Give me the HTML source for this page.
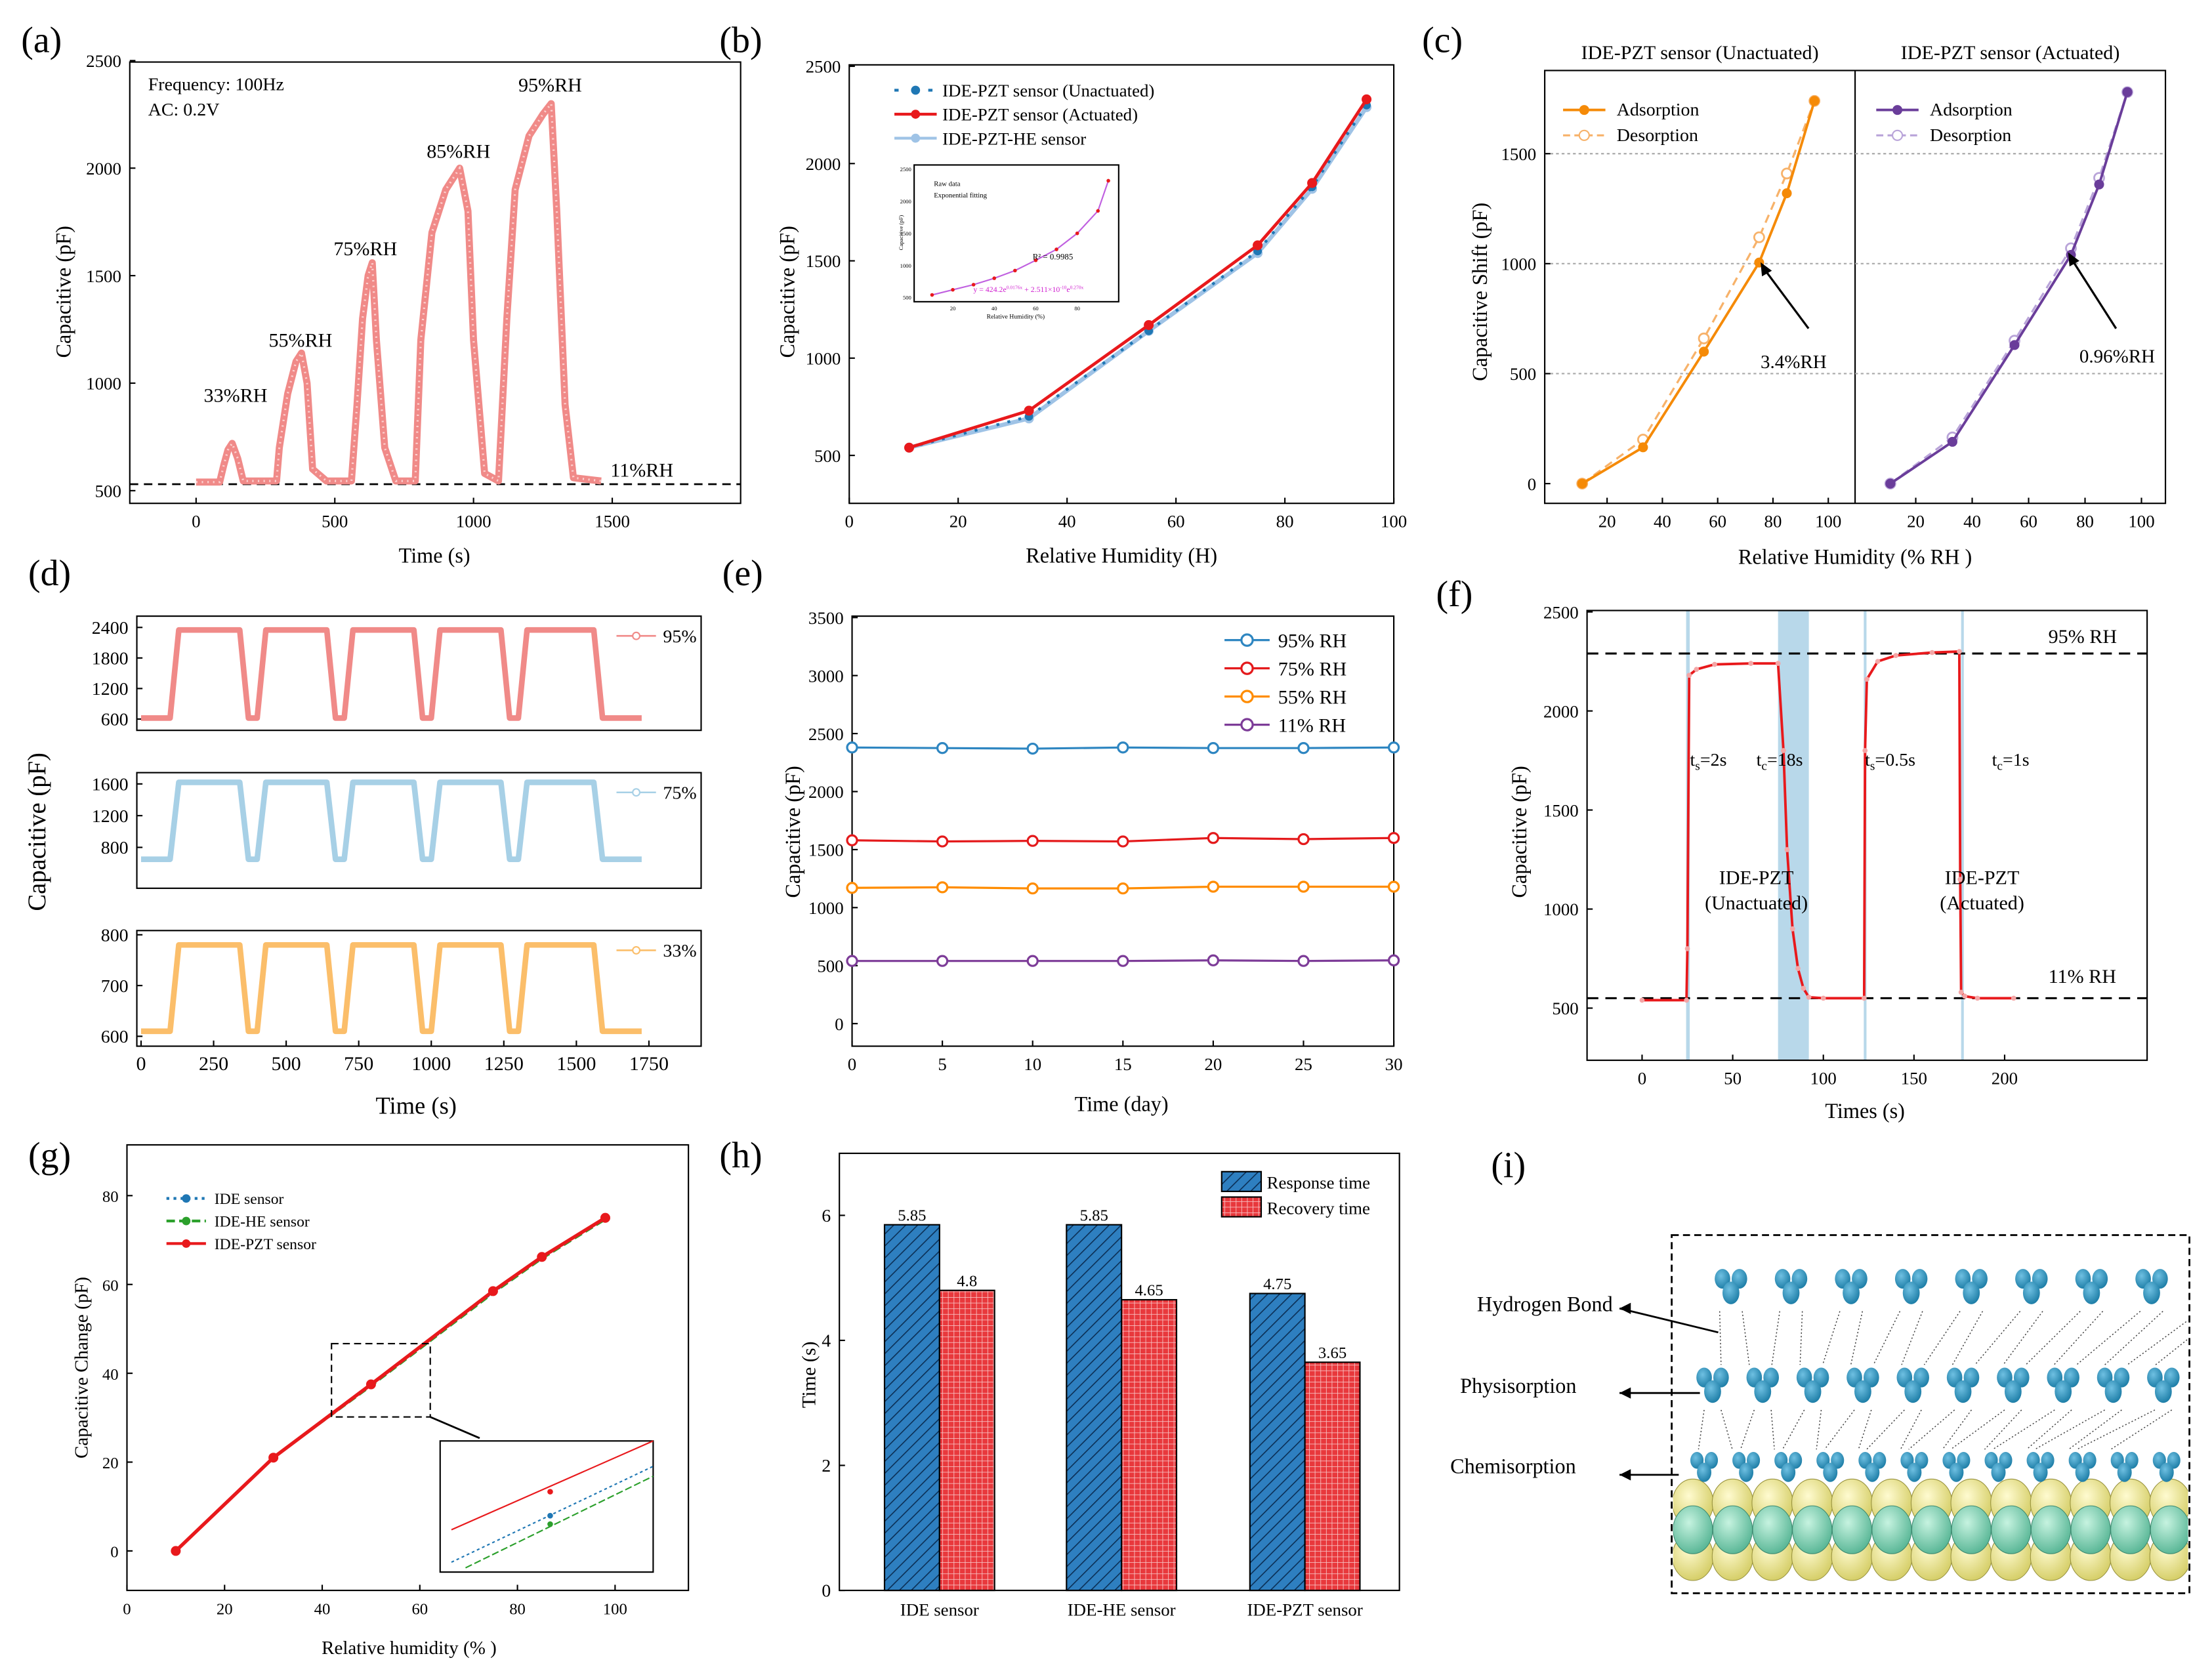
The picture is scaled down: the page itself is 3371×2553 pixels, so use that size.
<!DOCTYPE html>
<html><head><meta charset="utf-8"><style>
html,body{margin:0;padding:0;background:#fff}
svg{display:block;font-family:"Liberation Serif",serif}
</style></head><body>
<svg id="fig" width="3371" height="2553" viewBox="0 0 1568 1188" preserveAspectRatio="none" xmlns="http://www.w3.org/2000/svg">
<defs>
<pattern id="hatchBlue" width="6" height="6" patternUnits="userSpaceOnUse" patternTransform="rotate(45)"><rect width="6" height="6" fill="#2e7fc0"/><line x1="0" y1="0" x2="0" y2="6" stroke="#0b2f55" stroke-width="1.5"/></pattern>
<pattern id="gridRed" width="4" height="4" patternUnits="userSpaceOnUse"><rect width="4" height="4" fill="#e8383c"/><path d="M0 0H4M0 0V4" stroke="#fff" stroke-width="0.8" opacity="0.7"/></pattern>
<radialGradient id="yel" cx="40%" cy="35%" r="65%"><stop offset="0" stop-color="#fffbd0"/><stop offset="1" stop-color="#d6cf6a"/></radialGradient>
<radialGradient id="grn" cx="40%" cy="35%" r="65%"><stop offset="0" stop-color="#c6f3e0"/><stop offset="1" stop-color="#5cb898"/></radialGradient>
<radialGradient id="blu" cx="40%" cy="35%" r="65%"><stop offset="0" stop-color="#6fc0e2"/><stop offset="1" stop-color="#1f7fa8"/></radialGradient>
<clipPath id="clipI"><rect x="1186" y="877" width="365" height="252"/></clipPath>
</defs>
</svg>
<script>
// ---------- data arrays ----------
const aTime=[0,85,100,115,130,150,170,290,300,330,360,380,400,420,470,560,580,600,620,635,650,680,720,790,810,850,900,950,980,1000,1040,1090,1120,1150,1200,1250,1280,1300,1330,1360,1460];
const aCap=[540,540,620,690,720,650,545,545,700,950,1100,1140,1000,600,545,545,900,1300,1500,1560,1200,700,545,545,1200,1700,1900,2000,1800,1200,580,545,1300,1900,2150,2250,2300,1800,900,560,545];
const bRH=[11,33,55,75,85,95];
const bUnact=[540,700,1140,1550,1880,2300];
const bAct=[540,730,1170,1580,1900,2330];
const bHE=[540,690,1140,1540,1870,2290];
const insetRH=[10,20,30,40,50,60,70,80,90,95];
const insetCap=[540,620,700,800,920,1080,1250,1500,1850,2320];
const cRH=[11,33,55,75,85,95];
const cUnAds=[0,165,600,1005,1320,1740];
const cUnDes=[0,200,660,1120,1410,1740];
const cAcAds=[0,190,630,1040,1360,1780];
const cAcDes=[0,210,650,1070,1390,1780];
const dRise=[100,400,700,1000,1300];
const dFall=[370,670,970,1270,1590];
const dEnd=1725;
const d95=[620,2350], d75=[650,1620], d33=[610,780];
const eDays=[0,5,10,15,20,25,30];
const e95=[2380,2375,2370,2380,2375,2375,2380];
const e75=[1580,1570,1575,1570,1600,1590,1600];
const e55=[1170,1175,1165,1165,1180,1180,1180];
const e11=[540,540,540,540,545,540,545];
const fTime=[0,24.5,25,26,30,40,60,75,78,80,83,86,89,92,100,122.5,123,124,130,140,160,175,175.5,176,178,185,205];
const fCap=[540,540,800,2180,2210,2235,2240,2240,1800,1300,900,700,600,555,550,550,1800,2160,2250,2280,2295,2300,1150,580,560,550,550];
const gRH=[10,30,50,75,85,98];
const gIDE=[0,21,37.3,58.2,66,74.8];
const gHE=[0,21,37.1,58,65.8,74.6];
const gPZT=[0,21,37.5,58.5,66.2,75];
const hCats=['IDE sensor','IDE-HE sensor','IDE-PZT sensor'];
const hResp=[5.85,5.85,4.75];
const hRec=[4.8,4.65,3.65];

// ---------- helpers ----------
const NS='http://www.w3.org/2000/svg';
const svg=document.getElementById('fig');
function mk(tag,a,p,name){const e=document.createElementNS(NS,tag);for(const k in a)e.setAttribute(k,a[k]);


(p||svg).appendChild(e);return e;}
function txt(x,y,s,size,name,anchor,extra){const t=mk('text',Object.assign({x:x,y:y,'font-size':size,'text-anchor':anchor||'middle'},extra||{}),svg,name);t.textContent=s;return t;}
function vtxt(x,y,s,size,name){return txt(x,y,s,size,name,'middle',{transform:'rotate(-90 '+x+' '+y+')'});}
function lin(d0,d1,p0,p1){return v=>p0+(v-d0)*(p1-p0)/(d1-d0);}
function frame(x0,y0,x1,y1,name){mk('rect',{x:x0,y:y0,width:x1-x0,height:y1-y0,fill:'none',stroke:'#000','stroke-width':1},svg,name);}
function xticks(vals,sx,y,name,size){vals.forEach(v=>{mk('line',{x1:sx(v),x2:sx(v),y1:y,y2:y-4,stroke:'#000'},svg,name+'-tick');txt(sx(v),y+17,String(v),size||12.5,name+'-label');});}
function yticks(vals,sy,x,name,size){vals.forEach(v=>{mk('line',{x1:x+4,x2:x,y1:sy(v),y2:sy(v),stroke:'#000'},svg,name+'-tick');txt(x-6,sy(v)+4.5,String(v),size||12.5,name+'-label','end');});}
function path(xs,ys,sx,sy,attrs,name){const d=xs.map((v,i)=>(i?'L':'M')+sx(v).toFixed(2)+' '+sy(ys[i]).toFixed(2)).join('');return mk('path',Object.assign({d:d,fill:'none'},attrs),svg,name);}
function dots(xs,ys,sx,sy,attrs,name){xs.forEach((v,i)=>mk('circle',Object.assign({cx:sx(v),cy:sy(ys[i]),r:3.5},attrs),svg,name));}

// ---------- (a) ----------
txt(15,37,'(a)',26,'panel-label-a','start');
frame(92,44,525,357,'plot-frame-a');
{const sx=lin(0,1500,139,434),sy=lin(500,2500,348,43);
xticks([0,500,1000,1500],sx,357,'x-tick-a');yticks([500,1000,1500,2000,2500],sy,92,'y-tick-a');
mk('line',{x1:92,x2:525,y1:sy(530),y2:sy(530),stroke:'#000','stroke-dasharray':'6 4','stroke-width':1.3},svg,'baseline-dashed-a');
path(aTime,aCap,sx,sy,{stroke:'#f08a88','stroke-width':5,'stroke-linejoin':'round'},'capacitance-series-a');
path(aTime,aCap,sx,sy,{stroke:'#fcd0cf','stroke-width':1.5,'stroke-dasharray':'1 3'},'capacitance-markers-a');
txt(105,64,'Frequency: 100Hz',13,'annotation-frequency','start');txt(105,82,'AC: 0.2V',13,'annotation-ac','start');
[['33%RH',167,285],['55%RH',213,246],['75%RH',259,181],['85%RH',325,112],['95%RH',390,65],['11%RH',455,338]].forEach(a=>txt(a[1],a[2],a[0],14,'rh-label-a'));
txt(308,399,'Time (s)',15,'x-axis-title-a');vtxt(50,207,'Capacitive (pF)',15,'y-axis-title-a');}

// ---------- (b) ----------
txt(510,37,'(b)',26,'panel-label-b','start');
frame(602,46,988,357,'plot-frame-b');
{const sx=lin(0,100,602,988),sy=lin(500,2500,323,47);
xticks([0,20,40,60,80,100],sx,357,'x-tick-b');yticks([500,1000,1500,2000,2500],sy,602,'y-tick-b');
path(bRH,bHE,sx,sy,{stroke:'#9fc3e6','stroke-width':3},'series-he-b');dots(bRH,bHE,sx,sy,{fill:'#9fc3e6',r:3.5},'point-he-b');
path(bRH,bUnact,sx,sy,{stroke:'#1f77b4','stroke-width':2,'stroke-dasharray':'2 6'},'series-unactuated-b');dots(bRH,bUnact,sx,sy,{fill:'#1f77b4',r:3},'point-unactuated-b');
path(bRH,bAct,sx,sy,{stroke:'#e8191c','stroke-width':2.2},'series-actuated-b');dots(bRH,bAct,sx,sy,{fill:'#e8191c',r:3.5},'point-actuated-b');
const lg=[['IDE-PZT sensor (Unactuated)','#1f77b4','3 9',64],['IDE-PZT sensor (Actuated)','#e8191c','',81],['IDE-PZT-HE sensor','#9fc3e6','',98]];
lg.forEach(l=>{mk('line',{x1:634,x2:664,y1:l[3],y2:l[3],stroke:l[1],'stroke-width':2,'stroke-dasharray':l[2]},svg,'legend-line-b');mk('circle',{cx:649,cy:l[3],r:3.2,fill:l[1]},svg,'legend-marker-b');txt(668,l[3]+4.5,l[0],12.5,'legend-label-b','start');});
frame(648,117,793,214,'inset-frame-b');
const ix=lin(0,100,646,793),iy=lin(500,2500,211,120);
path(insetRH,insetCap,ix,iy,{stroke:'#c060e0','stroke-width':1},'inset-fit-b');dots(insetRH,insetCap,ix,iy,{fill:'#e8191c',r:1.3},'inset-point-b');
[500,1000,1500,2000,2500].forEach(v=>txt(646,iy(v)+1.5,String(v),4,'inset-y-tick','end'));
[20,40,60,80].forEach(v=>txt(ix(v),220,String(v),4,'inset-x-tick'));
txt(720,226,'Relative Humidity (%)',4.5,'inset-x-title');vtxt(640,165,'Capacitive (pF)',4,'inset-y-title');
txt(662,132,'Raw data',5,'inset-legend','start');txt(662,140,'Exponential fitting',5,'inset-legend','start');
txt(732,184,'R² = 0.9985',6,'inset-r2','start');
const eq=txt(690,207,'',5.5,'inset-eq','start',{fill:'#d020d0'});eq.innerHTML='y = 424.2e<tspan dy="-2" font-size="3.5">0.0176x</tspan><tspan dy="2"> + 2.511×10</tspan><tspan dy="-2" font-size="3.5">-10</tspan><tspan dy="2">e</tspan><tspan dy="-2" font-size="3.5">0.270x</tspan>';
txt(795,399,'Relative Humidity (H)',15,'x-axis-title-b');vtxt(563,207,'Capacitive  (pF)',15,'y-axis-title-b');}

// ---------- (c) ----------
txt(1008,37,'(c)',26,'panel-label-c','start');
frame(1095,50,1535,357,'plot-frame-c');
mk('line',{x1:1315,x2:1315,y1:50,y2:357,stroke:'#000'},svg,'subplot-divider-c');
{const sy=lin(0,1500,343,109);const sxL=lin(0,100,1100,1296),sxR=lin(0,100,1318,1518);
[500,1000,1500].forEach(v=>mk('line',{x1:1095,x2:1535,y1:sy(v),y2:sy(v),stroke:'#aaa','stroke-dasharray':'2 2'},svg,'gridline-c'));
yticks([0,500,1000,1500],sy,1095,'y-tick-c');
[20,40,60,80,100].forEach(v=>{[sxL,sxR].forEach(s=>{mk('line',{x1:s(v),x2:s(v),y1:357,y2:353,stroke:'#000'},svg,'x-tick-c');txt(s(v),374,String(v),12.5,'x-tick-label-c');});});
txt(1205,42,'IDE-PZT sensor (Unactuated)',14,'subplot-title-unactuated');txt(1425,42,'IDE-PZT sensor (Actuated)',14,'subplot-title-actuated');
path(cRH,cUnDes,sxL,sy,{stroke:'#f7b26a','stroke-width':1.5,'stroke-dasharray':'6 4'},'desorption-unactuated');dots(cRH,cUnDes,sxL,sy,{fill:'#fff',stroke:'#f7b26a','stroke-width':1.3},'desorption-point-unactuated');
path(cRH,cUnAds,sxL,sy,{stroke:'#f58a07','stroke-width':1.8},'adsorption-unactuated');dots(cRH,cUnAds,sxL,sy,{fill:'#f58a07'},'adsorption-point-unactuated');
path(cRH,cAcDes,sxR,sy,{stroke:'#b9a4d9','stroke-width':1.5,'stroke-dasharray':'6 4'},'desorption-actuated');dots(cRH,cAcDes,sxR,sy,{fill:'#fff',stroke:'#b9a4d9','stroke-width':1.3},'desorption-point-actuated');
path(cRH,cAcAds,sxR,sy,{stroke:'#6a3d9a','stroke-width':1.8},'adsorption-actuated');dots(cRH,cAcAds,sxR,sy,{fill:'#6a3d9a'},'adsorption-point-actuated');
[[1108,'#f58a07','#f7b26a','Adsorption','Desorption'],[1330,'#6a3d9a','#b9a4d9','Adsorption','Desorption']].forEach(l=>{
mk('line',{x1:l[0],x2:l[0]+30,y1:78,y2:78,stroke:l[1],'stroke-width':1.8},svg,'legend-line-c');mk('circle',{cx:l[0]+15,cy:78,r:3.5,fill:l[1]},svg,'legend-marker-c');txt(l[0]+38,82,l[3],13,'legend-label-c','start');
mk('line',{x1:l[0],x2:l[0]+30,y1:96,y2:96,stroke:l[2],'stroke-width':1.5,'stroke-dasharray':'5 3'},svg,'legend-line-c');mk('circle',{cx:l[0]+15,cy:96,r:3.5,fill:'#fff',stroke:l[2]},svg,'legend-marker-c');txt(l[0]+38,100,l[4],13,'legend-label-c','start');});
mk('line',{x1:1282,x2:1250,y1:233,y2:190,stroke:'#000','stroke-width':1.5},svg,'arrow-hysteresis-unactuated');
mk('path',{d:'M1248 186 L1256 192 L1249 196 Z',fill:'#000'},svg,'arrowhead');
txt(1248,261,'3.4%RH',13.5,'hysteresis-label-unactuated','start');
mk('line',{x1:1500,x2:1468,y1:233,y2:183,stroke:'#000','stroke-width':1.5},svg,'arrow-hysteresis-actuated');
mk('path',{d:'M1466 179 L1474 185 L1467 189 Z',fill:'#000'},svg,'arrowhead');
txt(1474,257,'0.96%RH',13.5,'hysteresis-label-actuated','start');
txt(1315,400,'Relative Humidity (% RH )',15,'x-axis-title-c');vtxt(1054,207,'Capacitive Shift (pF)',15,'y-axis-title-c');}

// ---------- (d) ----------
txt(20,415,'(d)',26,'panel-label-d','start');
{const sx=lin(0,1750,100,460);
const subs=[[437,518,d95,lin(600,2400,510,445),[600,1200,1800,2400],'#f08a88','95%'],[548,630,d75,lin(800,1600,601,556),[800,1200,1600],'#a7d0e6','75%'],[660,742,d33,lin(600,800,735,663),[600,700,800],'#fbbe6a','33%']];
subs.forEach(s=>{frame(97,s[0],497,s[1],'subplot-frame-d');yticks(s[4],s[3],97,'y-tick-d',13);
const ts=[0],vs=[s[2][0]];dRise.forEach((r,i)=>{ts.push(r,r+30,dFall[i]-30,dFall[i]);vs.push(s[2][0],s[2][1],s[2][1],s[2][0]);});ts.push(dEnd);vs.push(s[2][0]);
path(ts,vs,sx,s[3],{stroke:s[5],'stroke-width':4,'stroke-linejoin':'round'},'cycle-series-'+s[6]);
const ly=s[0]+14;mk('line',{x1:437,x2:465,y1:ly,y2:ly,stroke:s[5],'stroke-width':1.2},svg,'legend-line-d');mk('circle',{cx:451,cy:ly,r:2.5,fill:'#fff',stroke:s[5]},svg,'legend-marker-d');txt(470,ly+4.5,s[6],13,'legend-label-d','start');});
xticks([0,250,500,750,1000,1250,1500,1750],sx,742,'x-tick-d',14);
txt(295,790,'Time (s)',17,'x-axis-title-d');vtxt(32,590,'Capacitive (pF)',18,'y-axis-title-d');}

// ---------- (e) ----------
txt(512,415,'(e)',26,'panel-label-e','start');
frame(604,437,988,742,'plot-frame-e');
{const sx=lin(0,30,604,988),sy=lin(0,3500,726,438);
xticks(eDays,sx,742,'x-tick-e');yticks([0,500,1000,1500,2000,2500,3000,3500],sy,604,'y-tick-e');
const ser=[[e95,'#2e86c1','95% RH'],[e75,'#e41a1c','75% RH'],[e55,'#ff8c00','55% RH'],[e11,'#7d3c98','11% RH']];
ser.forEach((s,i)=>{path(eDays,s[0],sx,sy,{stroke:s[1],'stroke-width':1.5},'stability-series-'+s[2]);dots(eDays,s[0],sx,sy,{fill:'#fff',stroke:s[1],'stroke-width':1.5,r:3.5},'stability-point');
const ly=454+i*20;mk('line',{x1:868,x2:900,y1:ly,y2:ly,stroke:s[1],'stroke-width':1.5},svg,'legend-line-e');mk('circle',{cx:884,cy:ly,r:4,fill:'#fff',stroke:s[1],'stroke-width':1.5},svg,'legend-marker-e');txt(906,ly+5,s[2],14,'legend-label-e','start');});
txt(795,788,'Time (day)',15,'x-axis-title-e');vtxt(567,590,'Capacitive (pF)',15,'y-axis-title-e');}

// ---------- (f) ----------
txt(1018,430,'(f)',26,'panel-label-f','start');
{const sx=lin(0,200,1164,1421),sy=lin(500,2500,715,434);
[[24.3,26.3],[75,92],[122.3,123.8],[176,177.5]].forEach(b=>mk('rect',{x:sx(b[0]),y:433,width:sx(b[1])-sx(b[0]),height:319,fill:'#b8d8ea'},svg,'shaded-phase-f'));
frame(1125,433,1522,752,'plot-frame-f');
xticks([0,50,100,150,200],sx,752,'x-tick-f');yticks([500,1000,1500,2000,2500],sy,1125,'y-tick-f');
[2290,550].forEach(v=>mk('line',{x1:1125,x2:1522,y1:sy(v),y2:sy(v),stroke:'#000','stroke-dasharray':'8 5','stroke-width':1.5},svg,'reference-dashed-f'));
path(fTime,fCap,sx,sy,{stroke:'#e8191c','stroke-width':1.8},'response-series-f');
dots(fTime,fCap,sx,sy,{fill:'#f4a6a6',r:1.8},'response-point-f');
[['t','s','=2s',1198],['t','c','=18s',1245],['t','s','=0.5s',1322],['t','c','=1s',1412]].forEach(a=>{const t=txt(a[3],543,'',13,'time-label-f','start');t.innerHTML=a[0]+'<tspan font-size="9" dy="3">'+a[1]+'</tspan><tspan dy="-3">'+a[2]+'</tspan>';});
txt(1245,627,'IDE-PZT',14,'label-unactuated-f');txt(1245,645,'(Unactuated)',14,'label-unactuated-f');
txt(1405,627,'IDE-PZT',14,'label-actuated-f');txt(1405,645,'(Actuated)',14,'label-actuated-f');
txt(1452,456,'95% RH',14,'label-95-f','start');txt(1452,697,'11% RH',14,'label-11-f','start');
txt(1322,793,'Times (s)',15,'x-axis-title-f');vtxt(1082,590,'Capacitive (pF)',15,'y-axis-title-f');}

// ---------- (g) ----------
txt(20,828,'(g)',26,'panel-label-g','start');
frame(90,812,488,1128,'plot-frame-g');
{const sx=lin(0,100,90,436),sy=lin(0,80,1100,848);
xticks([0,20,40,60,80,100],sx,1128,'x-tick-g',11.5);yticks([0,20,40,60,80],sy,90,'y-tick-g',11.5);
path(gRH,gIDE,sx,sy,{stroke:'#1f77b4','stroke-width':1.5,'stroke-dasharray':'2 3'},'series-ide-g');
path(gRH,gHE,sx,sy,{stroke:'#2ca02c','stroke-width':1.5,'stroke-dasharray':'6 3'},'series-he-g');
path(gRH,gPZT,sx,sy,{stroke:'#e8191c','stroke-width':2.5},'series-pzt-g');dots(gRH,gPZT,sx,sy,{fill:'#e8191c',r:3.5},'point-pzt-g');
[['IDE sensor','#1f77b4','2 3',850],['IDE-HE sensor','#2ca02c','6 3',866],['IDE-PZT sensor','#e8191c','',882]].forEach(l=>{mk('line',{x1:118,x2:146,y1:l[3],y2:l[3],stroke:l[1],'stroke-width':2,'stroke-dasharray':l[2]},svg,'legend-line-g');mk('circle',{cx:132,cy:l[3],r:3,fill:l[1]},svg,'legend-marker-g');txt(152,l[3]+4,l[0],11,'legend-label-g','start');});
mk('rect',{x:235,y:953,width:70,height:52,fill:'none',stroke:'#000','stroke-dasharray':'5 3'},svg,'zoom-box-g');
mk('line',{x1:305,x2:340,y1:1005,y2:1020,stroke:'#000','stroke-width':1.3},svg,'zoom-arrow-g');
frame(312,1022,463,1115,'inset-frame-g');
mk('line',{x1:320,x2:463,y1:1085,y2:1022,stroke:'#e8191c'},svg,'inset-pzt-g');
mk('line',{x1:320,x2:463,y1:1108,y2:1040,stroke:'#1f77b4','stroke-dasharray':'2 2'},svg,'inset-ide-g');
mk('line',{x1:330,x2:463,y1:1112,y2:1047,stroke:'#2ca02c','stroke-dasharray':'5 2'},svg,'inset-he-g');
mk('circle',{cx:390,cy:1058,r:2,fill:'#e8191c'},svg,'inset-point');mk('circle',{cx:390,cy:1075,r:2,fill:'#1f77b4'},svg,'inset-point');mk('circle',{cx:390,cy:1081,r:2,fill:'#2ca02c'},svg,'inset-point');
txt(290,1173,'Relative humidity (% )',13.5,'x-axis-title-g');vtxt(62,970,'Capacitive Change (pF)',13.5,'y-axis-title-g');}

// ---------- (h) ----------
txt(510,828,'(h)',26,'panel-label-h','start');
frame(595,818,992,1128,'plot-frame-h');
{const sy=lin(0,6,1128,862);const cx=[666,795,925];
yticks([0,2,4,6],sy,595,'y-tick-h',13);
hCats.forEach((c,i)=>{
mk('rect',{x:cx[i]-39,y:sy(hResp[i]),width:39,height:sy(0)-sy(hResp[i]),fill:'url(#hatchBlue)',stroke:'#000'},svg,'bar-response-'+c);
mk('rect',{x:cx[i],y:sy(hRec[i]),width:39,height:sy(0)-sy(hRec[i]),fill:'url(#gridRed)',stroke:'#000'},svg,'bar-recovery-'+c);
txt(cx[i]-19.5,sy(hResp[i])-3,String(hResp[i]),11.5,'value-label-response');txt(cx[i]+19.5,sy(hRec[i])-3,String(hRec[i]),11.5,'value-label-recovery');
txt(cx[i],1146,c,12.5,'x-category-label-h');});
mk('rect',{x:866,y:831,width:28,height:14,fill:'url(#hatchBlue)',stroke:'#000'},svg,'legend-swatch-response');txt(898,843,'Response time',12.5,'legend-label-h','start');
mk('rect',{x:866,y:849,width:28,height:14,fill:'url(#gridRed)',stroke:'#000'},svg,'legend-swatch-recovery');txt(898,861,'Recovery time',12.5,'legend-label-h','start');
vtxt(578,975,'Time (s)',14,'y-axis-title-h');}

// ---------- (i) ----------
txt(1057,835,'(i)',26,'panel-label-i','start');
{const g=mk('g',{'clip-path':'url(#clipI)'},svg,'illustration-content-i');
for(let k=0;k<13;k++){const x=1200+k*28.2;
mk('ellipse',{cx:x,cy:1104,rx:14.5,ry:17,fill:'url(#yel)',stroke:'#9a9440','stroke-width':0.5},g,'substrate-atom-yellow-bottom');}
for(let k=0;k<13;k++){const x=1200+k*28.2;
mk('ellipse',{cx:x,cy:1066,rx:14.5,ry:17,fill:'url(#yel)',stroke:'#9a9440','stroke-width':0.5},g,'substrate-atom-yellow-top');}
for(let k=0;k<13;k++){const x=1200+k*28.2;
mk('ellipse',{cx:x,cy:1085,rx:14,ry:17,fill:'url(#grn)',stroke:'#3d8a70','stroke-width':0.5},g,'substrate-atom-green');}
function mol(x,y,s){mk('ellipse',{cx:x-6*s,cy:y-5*s,rx:5.5*s,ry:7*s,fill:'url(#blu)'},g,'water-molecule-h');mk('ellipse',{cx:x+6*s,cy:y-5*s,rx:5.5*s,ry:7*s,fill:'url(#blu)'},g,'water-molecule-h');mk('ellipse',{cx:x,cy:y+5*s,rx:6*s,ry:8*s,fill:'url(#blu)'},g,'water-molecule-o');}
for(let k=0;k<9;k++){mk('line',{x1:1227+k*42.6-8,y1:930,x2:1220+k*36,y2:968,stroke:'#444','stroke-width':0.7,'stroke-dasharray':'1 1.5'},g,'hydrogen-bond-line');mk('line',{x1:1227+k*42.6+8,y1:930,x2:1240+k*36,y2:968,stroke:'#444','stroke-width':0.7,'stroke-dasharray':'1 1.5'},g,'hydrogen-bond-line');}
for(let k=0;k<10;k++){mk('line',{x1:1208+k*35.5,y1:1000,x2:1204+k*29.8,y2:1028,stroke:'#444','stroke-width':0.7,'stroke-dasharray':'1 1.5'},g,'hydrogen-bond-line');mk('line',{x1:1220+k*35.5,y1:1000,x2:1228+k*29.8,y2:1028,stroke:'#444','stroke-width':0.7,'stroke-dasharray':'1 1.5'},g,'hydrogen-bond-line');}
for(let k=0;k<8;k++)mol(1227+k*42.6,912,1);
for(let k=0;k<10;k++)mol(1214+k*35.5,982,1);
for(let k=0;k<12;k++)mol(1208+k*29.8,1040,0.85);}
mk('rect',{x:1185,y:876,width:367,height:254,fill:'none',stroke:'#000','stroke-dasharray':'5 3','stroke-width':1.3},svg,'illustration-frame-i');
txt(1047,930,'Hydrogen Bond',15,'label-hydrogen-bond','start');txt(1035,988,'Physisorption',15,'label-physisorption','start');txt(1028,1045,'Chemisorption',15,'label-chemisorption','start');
[[1218,945,1148,928],[1205,988,1148,988],[1190,1046,1148,1046]].forEach(a=>{mk('line',{x1:a[0],y1:a[1],x2:a[2],y2:a[3],stroke:'#000','stroke-width':1.3},svg,'label-arrow-i');mk('path',{d:'M'+a[2]+' '+a[3]+' l8 -4 l0 8 Z',fill:'#000'},svg,'label-arrowhead-i');});
</script>
</body></html>
